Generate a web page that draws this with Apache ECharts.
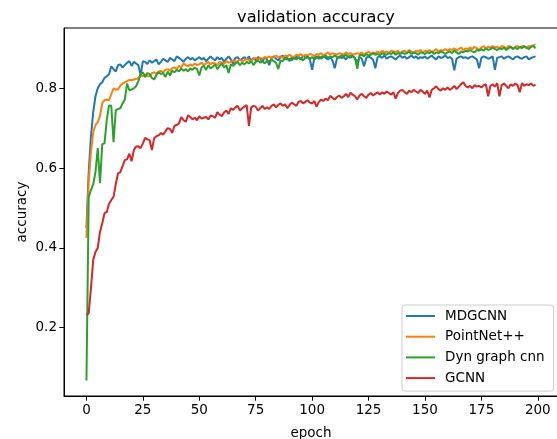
<!DOCTYPE html>
<html>
<head>
<meta charset="utf-8">
<script src="https://cdn.jsdelivr.net/npm/echarts@6/dist/echarts.min.js"></script>
<style>html,body{margin:0;padding:0;background:#fff}#c{width:557px;height:439px}</style>
</head>
<body>
<div id="c"></div>
<script>
const seriesNames = ['MDGCNN', 'PointNet++', 'Dyn graph cnn', 'GCNN'];
const xTicks = [0, 25, 50, 75, 100, 125, 150, 175, 200];
const yTicks = [0.2, 0.4, 0.6, 0.8];

const mdgcnn = [
0.450,0.590,0.680,0.740,0.780,0.800,0.810,0.815,0.826,0.830,
0.835,0.855,0.848,0.842,0.858,0.860,0.852,0.858,0.864,0.868,
0.856,0.866,0.862,0.858,0.833,0.868,0.866,0.861,0.870,0.864,
0.868,0.872,0.860,0.866,0.874,0.870,0.866,0.876,0.872,0.868,
0.880,0.876,0.872,0.866,0.874,0.878,0.872,0.876,0.870,0.874,
0.878,0.872,0.876,0.868,0.874,0.880,0.874,0.870,0.878,0.872,
0.876,0.866,0.874,0.880,0.872,0.862,0.876,0.878,0.870,0.874,
0.878,0.872,0.880,0.868,0.876,0.870,0.878,0.874,0.866,0.878,
0.872,0.858,0.876,0.880,0.874,0.870,0.878,0.882,0.874,0.876,
0.868,0.878,0.874,0.880,0.876,0.872,0.882,0.876,0.878,0.872,
0.846,0.876,0.880,0.874,0.878,0.882,0.876,0.872,0.878,0.870,
0.850,0.874,0.880,0.876,0.878,0.872,0.880,0.876,0.882,0.874,
0.866,0.878,0.874,0.855,0.876,0.880,0.876,0.872,0.850,0.878,
0.880,0.876,0.882,0.874,0.878,0.880,0.876,0.872,0.878,0.882,
0.876,0.880,0.874,0.878,0.882,0.876,0.880,0.874,0.878,0.876,
0.880,0.874,0.878,0.882,0.876,0.872,0.880,0.876,0.878,0.882,
0.876,0.878,0.874,0.845,0.874,0.878,0.880,0.876,0.878,0.874,
0.878,0.880,0.876,0.872,0.850,0.876,0.880,0.878,0.874,0.876,
0.880,0.846,0.876,0.878,0.880,0.874,0.878,0.880,0.876,0.872,
0.878,0.880,0.876,0.874,0.878,0.880,0.872,0.876,0.878,0.880
];
const pointnet = [
0.425,0.566,0.640,0.690,0.708,0.715,0.730,0.763,0.770,0.772,
0.770,0.785,0.800,0.796,0.798,0.806,0.812,0.815,0.818,0.821,
0.820,0.822,0.823,0.826,0.832,0.830,0.835,0.830,0.830,0.838,
0.840,0.836,0.842,0.844,0.840,0.846,0.848,0.844,0.850,0.852,
0.848,0.856,0.852,0.862,0.858,0.855,0.860,0.856,0.862,0.858,
0.860,0.864,0.858,0.862,0.866,0.860,0.864,0.862,0.858,0.866,
0.864,0.862,0.868,0.864,0.866,0.870,0.866,0.868,0.872,0.868,
0.870,0.874,0.870,0.868,0.874,0.876,0.872,0.876,0.874,0.878,
0.876,0.880,0.876,0.878,0.882,0.878,0.880,0.876,0.882,0.880,
0.884,0.880,0.878,0.884,0.882,0.886,0.880,0.884,0.882,0.886,
0.884,0.880,0.886,0.884,0.888,0.882,0.886,0.890,0.884,0.888,
0.886,0.884,0.888,0.886,0.884,0.890,0.886,0.888,0.884,0.886,
0.888,0.886,0.890,0.884,0.888,0.892,0.886,0.890,0.888,0.892,
0.888,0.894,0.890,0.892,0.888,0.894,0.892,0.890,0.894,0.888,
0.892,0.894,0.890,0.896,0.892,0.888,0.894,0.892,0.896,0.890,
0.894,0.892,0.896,0.890,0.894,0.898,0.892,0.896,0.894,0.898,
0.894,0.898,0.896,0.900,0.894,0.898,0.902,0.896,0.900,0.898,
0.902,0.898,0.904,0.900,0.896,0.902,0.906,0.900,0.904,0.902,
0.906,0.902,0.904,0.900,0.906,0.904,0.900,0.906,0.904,0.900,
0.904,0.906,0.902,0.906,0.904,0.900,0.906,0.904,0.908,0.910
];
const dyngraph = [
0.068,0.528,0.545,0.560,0.590,0.650,0.562,0.660,0.662,0.720,
0.757,0.756,0.665,0.745,0.748,0.750,0.762,0.772,0.812,0.795,
0.797,0.800,0.805,0.818,0.835,0.840,0.828,0.838,0.836,0.826,
0.822,0.834,0.840,0.836,0.838,0.828,0.842,0.832,0.844,0.840,
0.846,0.842,0.850,0.844,0.848,0.842,0.850,0.846,0.852,0.848,
0.832,0.852,0.856,0.846,0.858,0.850,0.854,0.860,0.848,0.856,
0.862,0.852,0.858,0.838,0.860,0.856,0.862,0.866,0.858,0.864,
0.860,0.866,0.862,0.868,0.858,0.866,0.870,0.864,0.868,0.862,
0.870,0.866,0.872,0.868,0.864,0.848,0.870,0.868,0.876,0.872,
0.874,0.870,0.876,0.872,0.878,0.874,0.870,0.876,0.880,0.874,
0.878,0.872,0.876,0.880,0.874,0.878,0.882,0.876,0.880,0.878,
0.882,0.878,0.876,0.882,0.880,0.884,0.878,0.882,0.880,0.876,
0.849,0.882,0.884,0.880,0.886,0.882,0.884,0.888,0.884,0.886,
0.882,0.888,0.886,0.884,0.888,0.886,0.890,0.884,0.888,0.886,
0.890,0.886,0.888,0.892,0.886,0.890,0.888,0.884,0.890,0.888,
0.886,0.890,0.888,0.892,0.886,0.890,0.888,0.892,0.890,0.886,
0.890,0.892,0.888,0.894,0.890,0.886,0.892,0.890,0.894,0.892,
0.896,0.892,0.890,0.896,0.894,0.898,0.894,0.900,0.896,0.898,
0.902,0.898,0.896,0.900,0.898,0.902,0.896,0.900,0.904,0.898,
0.902,0.898,0.904,0.900,0.906,0.902,0.898,0.904,0.906,0.900
];
const gcnn = [
0.231,0.237,0.300,0.370,0.390,0.400,0.440,0.462,0.487,0.490,
0.510,0.520,0.528,0.560,0.587,0.590,0.605,0.620,0.622,0.636,
0.617,0.645,0.654,0.655,0.650,0.662,0.676,0.672,0.670,0.645,
0.675,0.680,0.682,0.688,0.684,0.692,0.700,0.698,0.688,0.706,
0.708,0.712,0.728,0.720,0.716,0.732,0.728,0.722,0.726,0.720,
0.730,0.724,0.726,0.728,0.722,0.732,0.730,0.726,0.740,0.734,
0.730,0.740,0.744,0.736,0.750,0.746,0.752,0.756,0.744,0.750,
0.754,0.758,0.706,0.752,0.756,0.754,0.744,0.750,0.756,0.748,
0.752,0.748,0.756,0.760,0.752,0.758,0.762,0.756,0.760,0.750,
0.758,0.764,0.760,0.756,0.766,0.768,0.762,0.766,0.770,0.764,
0.762,0.768,0.754,0.766,0.772,0.768,0.774,0.770,0.781,0.776,
0.772,0.778,0.782,0.776,0.780,0.786,0.778,0.789,0.784,0.780,
0.772,0.782,0.786,0.780,0.776,0.784,0.788,0.782,0.786,0.790,
0.784,0.790,0.786,0.792,0.788,0.784,0.790,0.774,0.788,0.794,
0.796,0.790,0.786,0.794,0.790,0.796,0.792,0.788,0.796,0.792,
0.786,0.794,0.777,0.796,0.800,0.805,0.798,0.794,0.800,0.796,
0.802,0.796,0.800,0.806,0.798,0.804,0.810,0.815,0.806,0.802,
0.806,0.800,0.808,0.804,0.806,0.802,0.808,0.810,0.780,0.806,
0.810,0.804,0.813,0.780,0.808,0.812,0.806,0.800,0.810,0.806,
0.812,0.808,0.790,0.813,0.806,0.810,0.808,0.812,0.806,0.809
];

const allSeries = [mdgcnn, pointnet, dyngraph, gcnn];
const colors = ['#1f77b4', '#ff7f0e', '#2ca02c', '#d62728'];
const font = 'DejaVu Sans';

const chart = echarts.init(document.getElementById('c'), null, {renderer: 'canvas'});
chart.setOption({
  animation: false,
  backgroundColor: '#fff',
  title: {
    text: 'validation accuracy',
    left: 311, top: 5, textAlign: 'center',
    textStyle: {fontFamily: font, fontSize: 16.2, fontWeight: 'normal', color: '#000'}
  },
  grid: {left: 64, top: 28, width: 494, height: 368, show: true, borderColor: '#000', borderWidth: 1,
    containLabel: false, outerBoundsMode: 'none'},
  legend: {
    orient: 'vertical', left: 402, top: 305,
    data: seriesNames,
    itemWidth: 29, itemHeight: 2, itemGap: 6.7,
    icon: 'rect',
    padding: [4, 9, 6, 4],
    backgroundColor: 'rgba(255,255,255,0.8)',
    borderColor: '#cccccc', borderWidth: 1, borderRadius: 3,
    textStyle: {fontFamily: font, fontSize: 13.5, color: '#000', padding: [0, 0, 0, 5]}
  },
  xAxis: {
    type: 'value', min: -9.95, max: 208.95,
    name: 'epoch', nameLocation: 'middle', nameGap: 30, nameMoveOverlap: false,
    nameTextStyle: {fontFamily: font, fontSize: 13.5, color: '#000'},
    axisLine: {show: true, onZero: false, lineStyle: {color: '#000', width: 1}},
    axisTick: {show: true, length: 4.7, customValues: xTicks, lineStyle: {color: '#000'}},
    axisLabel: {customValues: xTicks, fontFamily: font, fontSize: 13.5, color: '#000', margin: 7},
    splitLine: {show: false}
  },
  yAxis: {
    type: 'value', min: 0.029, max: 0.951,
    name: 'accuracy', nameLocation: 'middle', nameGap: 35, nameMoveOverlap: false,
    nameTextStyle: {fontFamily: font, fontSize: 13.5, color: '#000'},
    axisLine: {show: true, onZero: false, lineStyle: {color: '#000', width: 1}},
    axisTick: {show: true, length: 4.7, customValues: yTicks, lineStyle: {color: '#000'}},
    axisLabel: {customValues: yTicks, fontFamily: font, fontSize: 13.5, color: '#000', margin: 7,
      formatter: v => v.toFixed(1)},
    splitLine: {show: false}
  },
  series: allSeries.map((arr, k) => ({
    name: seriesNames[k],
    type: 'line',
    data: arr.map((v, i) => [i, v]),
    showSymbol: false, symbol: 'none',
    lineStyle: {color: colors[k], width: 2},
    itemStyle: {color: colors[k]},
    z: 2 + k
  }))
});
</script>
</body>
</html>
